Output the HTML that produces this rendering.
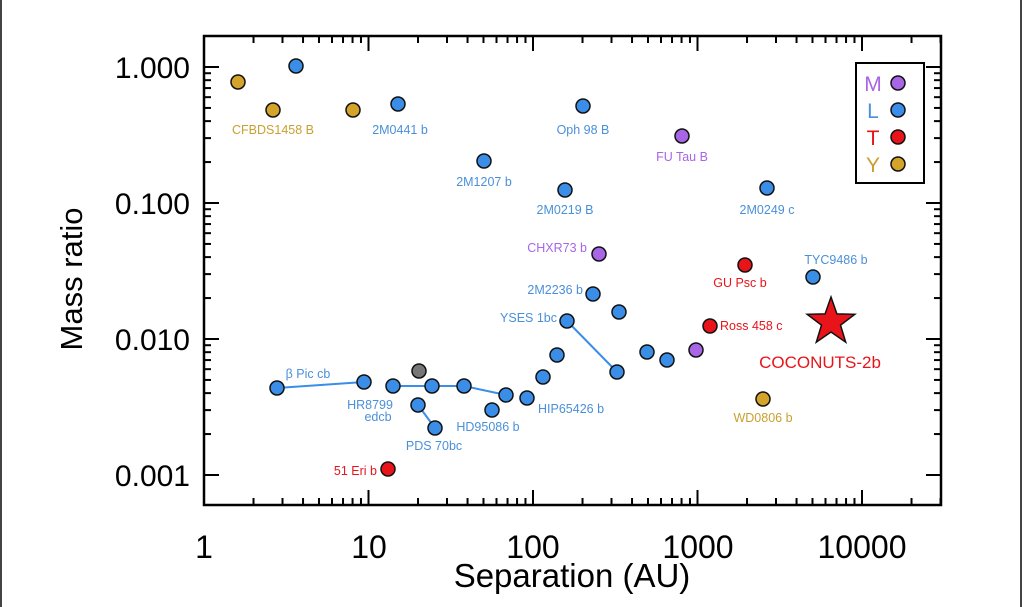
<!DOCTYPE html>
<html><head><meta charset="utf-8"><style>
html,body{margin:0;padding:0;background:#fff;}
svg{display:block;font-family:"Liberation Sans",sans-serif;}
</style></head><body>
<svg id="svg" width="1024" height="607" viewBox="0 0 1024 607" xmlns="http://www.w3.org/2000/svg">
<rect width="1024" height="607" fill="#fff"/>
<line x1="1" y1="0" x2="1" y2="607" stroke="#444" stroke-width="2"/>
<line x1="1021" y1="0" x2="1021" y2="607" stroke="#444" stroke-width="2"/>
<g id="ticks" stroke="#000" stroke-width="2"></g>
<rect x="204" y="36" width="737" height="469" fill="none" stroke="#000" stroke-width="2.5"/>
<g font-size="30" fill="#000" text-anchor="end">
<text x="190" y="78">1.000</text><text x="190" y="214">0.100</text><text x="190" y="350">0.010</text><text x="190" y="486">0.001</text>
</g>
<g font-size="32" fill="#000" text-anchor="middle">
<text x="204" y="558">1</text><text x="369" y="558">10</text><text x="533" y="558">100</text><text x="698" y="558">1000</text><text x="862" y="558">10000</text>
</g>
<text x="572" y="587" font-size="33" text-anchor="middle">Separation (AU)</text>
<text transform="translate(82,279) rotate(-90)" font-size="31" text-anchor="middle">Mass ratio</text>
<g stroke="#3b8ee8" stroke-width="2" fill="none">
<polyline points="277,388 364,382"/><polyline points="393,386 432,386 464,386 506,395"/><polyline points="418,405 435,428"/><polyline points="567,321 617,372"/>
</g>
<g stroke="#111" stroke-width="1.5">
<g fill="#d4a32a"><circle cx="238" cy="82" r="7"/><circle cx="273" cy="110" r="7"/><circle cx="353" cy="110" r="7"/><circle cx="763" cy="399" r="7"/></g>
<g fill="#3b8ee8">
<circle cx="296" cy="66" r="7"/><circle cx="398" cy="104" r="7"/><circle cx="583" cy="106" r="7"/><circle cx="484" cy="161" r="7"/><circle cx="565" cy="190" r="7"/><circle cx="767" cy="188" r="7"/><circle cx="813" cy="277" r="7"/><circle cx="593" cy="294" r="7"/><circle cx="619" cy="312" r="7"/><circle cx="567" cy="321" r="7"/><circle cx="557" cy="355" r="7"/><circle cx="543" cy="377" r="7"/><circle cx="617" cy="372" r="7"/><circle cx="647" cy="352" r="7"/><circle cx="667" cy="360" r="7"/><circle cx="277" cy="388" r="7"/><circle cx="364" cy="382" r="7"/><circle cx="393" cy="386" r="7"/><circle cx="432" cy="386" r="7"/><circle cx="464" cy="386" r="7"/><circle cx="506" cy="395" r="7"/><circle cx="492" cy="410" r="7"/><circle cx="418" cy="405" r="7"/><circle cx="435" cy="428" r="7"/><circle cx="527" cy="398" r="7"/>
</g>
<g fill="#a865e6"><circle cx="682" cy="136" r="7"/><circle cx="599" cy="254" r="7"/><circle cx="696" cy="350" r="7"/></g>
<g fill="#e8141a"><circle cx="745" cy="265" r="7"/><circle cx="710" cy="326" r="7"/><circle cx="388" cy="469" r="7"/></g>
<circle cx="419" cy="371" r="7" fill="#777"/>
</g>
<polygon id="star" fill="#e8141a" stroke="#111" stroke-width="1.5" points=""/>
<g font-size="12.5" text-anchor="middle">
<text x="273" y="134" fill="#c9a030">CFBDS1458 B</text>
<text x="400" y="134" fill="#4a90d9">2M0441 b</text>
<text x="583" y="134" fill="#4a90d9">Oph 98 B</text>
<text x="682" y="161" fill="#a865e6">FU Tau B</text>
<text x="484" y="186" fill="#4a90d9">2M1207 b</text>
<text x="565" y="214" fill="#4a90d9">2M0219 B</text>
<text x="767" y="214" fill="#4a90d9">2M0249 c</text>
<text x="836" y="264" fill="#4a90d9">TYC9486 b</text>
<text x="740" y="287" fill="#e8141a">GU Psc b</text>
<text x="308" y="378" fill="#4a90d9">β Pic cb</text>
<text x="370" y="409" fill="#4a90d9">HR8799</text>
<text x="378" y="421" fill="#4a90d9">edcb</text>
<text x="488" y="431" fill="#4a90d9">HD95086 b</text>
<text x="434" y="450" fill="#4a90d9">PDS 70bc</text>
<text x="763" y="422" fill="#c9a030">WD0806 b</text>
</g>
<g font-size="12.5" text-anchor="end">
<text x="587" y="252" fill="#a865e6">CHXR73 b</text>
<text x="583" y="294" fill="#4a90d9">2M2236 b</text>
<text x="557" y="322" fill="#4a90d9">YSES 1bc</text>
<text x="377" y="475" fill="#e8141a">51 Eri b</text>
</g>
<g font-size="12.5">
<text x="720" y="330" fill="#e8141a">Ross 458 c</text>
<text x="538" y="413" fill="#4a90d9">HIP65426 b</text>
</g>
<text x="820" y="368" font-size="17" fill="#e8141a" text-anchor="middle">COCONUTS-2b</text>
<rect x="856" y="63" width="68" height="120" fill="#fff" stroke="#000" stroke-width="2"/>
<g font-size="21" text-anchor="middle">
<text x="873" y="91" fill="#a865e6">M</text><text x="873" y="118" fill="#4a90d9">L</text><text x="873" y="145" fill="#e8141a">T</text><text x="873" y="172" fill="#c9a030">Y</text>
</g>
<g stroke="#111" stroke-width="1.5">
<circle cx="898" cy="83" r="7" fill="#a865e6"/><circle cx="898" cy="110" r="7" fill="#3b8ee8"/><circle cx="898" cy="137" r="7" fill="#e8141a"/><circle cx="898" cy="164" r="7" fill="#d4a32a"/>
</g>
<script>
(function(){
var NS='http://www.w3.org/2000/svg';
var g=document.getElementById('ticks');
function L(a,b,c,d){var e=document.createElementNS(NS,'line');e.setAttribute('x1',a);e.setAttribute('y1',b);e.setAttribute('x2',c);e.setAttribute('y2',d);e.setAttribute('stroke','#000');e.setAttribute('stroke-width','2');g.appendChild(e);}
var x0=204,dx=164.5,y0=67,dy=136;
for(var d=0;d<5;d++)for(var k=1;k<10;k++){var x=x0+dx*(d+Math.log10(k));if(x>941)continue;var l=k==1?15:7;L(x,505,x,505-l);L(x,36,x,36+l);}
for(var d=-1;d<4;d++)for(var k=1;k<10;k++){var y=y0+dy*(d-Math.log10(k));if(y<36||y>505)continue;var l=k==1?15:7;L(204,y,204+l,y);L(941,y,941-l,y);}
var p=[],cx=831,cy=322,R=25,r=10;
for(var i=0;i<10;i++){var a=-Math.PI/2+i*Math.PI/5,rr=i%2?r:R;p.push((cx+rr*Math.cos(a)).toFixed(1)+','+(cy+rr*Math.sin(a)).toFixed(1));}
document.getElementById('star').setAttribute('points',p.join(' '));
})();
</script>
</svg>
</body></html>
